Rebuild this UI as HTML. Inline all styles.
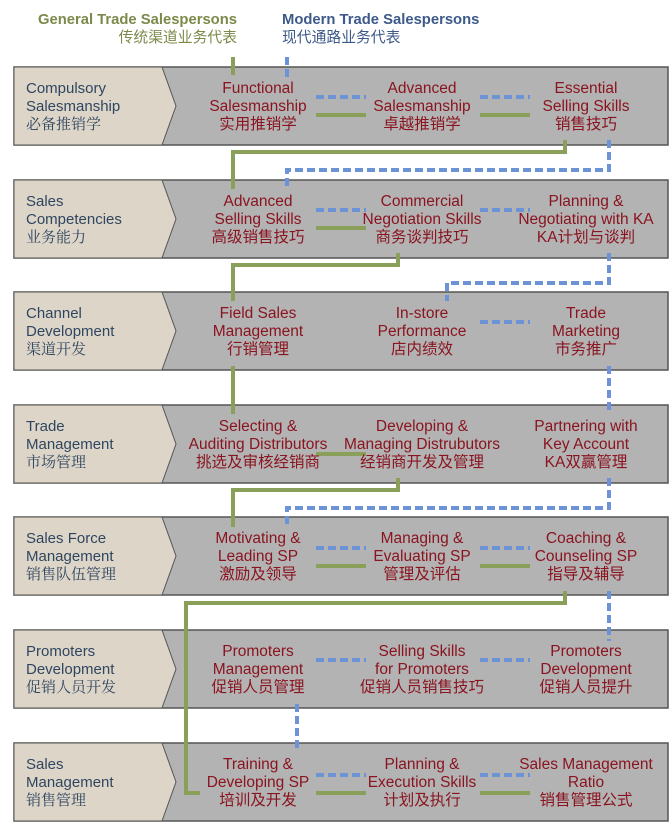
<!DOCTYPE html>
<html><head><meta charset="utf-8"><style>
html,body{margin:0;padding:0;background:#fff;}
svg{display:block;}
.h{font-family:"Liberation Sans","Noto Sans CJK SC",sans-serif;font-size:14.8px;font-weight:bold;}
.hc{font-family:"Liberation Sans","Noto Sans CJK SC",sans-serif;font-size:14.8px;}
.n{font-family:"Liberation Sans","Noto Sans CJK SC",sans-serif;font-size:15.5px;fill:#8a1420;text-anchor:middle;}
.l{font-family:"Liberation Sans","Noto Serif CJK SC",sans-serif;font-size:15px;fill:#2f4660;}
.g{stroke:#8aa05a;stroke-width:4;fill:none;}
.b{stroke:#6b93d6;stroke-width:4;fill:none;stroke-dasharray:8 4;}
</style></head><body>
<svg width="669" height="836" viewBox="0 0 669 836" xmlns="http://www.w3.org/2000/svg">
<text class="h" x="237" y="24" text-anchor="end" fill="#7b8a4a">General Trade Salespersons</text>
<text class="hc" x="237" y="42" text-anchor="end" fill="#7b8a4a">传统渠道业务代表</text>
<text class="h" x="282" y="24" fill="#3d5a8a">Modern Trade Salespersons</text>
<text class="hc" x="282" y="42" fill="#3d5a8a">现代通路业务代表</text>

<g id="bands">
<g transform="translate(0,67)"><rect x="14" y="0" width="654" height="78" fill="#b3b3b3" stroke="#555" stroke-width="1.5"/><polygon points="14,0 162,0 176,39 162,78 14,78" fill="#ddd5c8" stroke="#555" stroke-width="1"/></g>
<g transform="translate(0,180)"><rect x="14" y="0" width="654" height="78" fill="#b3b3b3" stroke="#555" stroke-width="1.5"/><polygon points="14,0 162,0 176,39 162,78 14,78" fill="#ddd5c8" stroke="#555" stroke-width="1"/></g>
<g transform="translate(0,292)"><rect x="14" y="0" width="654" height="78" fill="#b3b3b3" stroke="#555" stroke-width="1.5"/><polygon points="14,0 162,0 176,39 162,78 14,78" fill="#ddd5c8" stroke="#555" stroke-width="1"/></g>
<g transform="translate(0,405)"><rect x="14" y="0" width="654" height="78" fill="#b3b3b3" stroke="#555" stroke-width="1.5"/><polygon points="14,0 162,0 176,39 162,78 14,78" fill="#ddd5c8" stroke="#555" stroke-width="1"/></g>
<g transform="translate(0,517)"><rect x="14" y="0" width="654" height="78" fill="#b3b3b3" stroke="#555" stroke-width="1.5"/><polygon points="14,0 162,0 176,39 162,78 14,78" fill="#ddd5c8" stroke="#555" stroke-width="1"/></g>
<g transform="translate(0,630)"><rect x="14" y="0" width="654" height="78" fill="#b3b3b3" stroke="#555" stroke-width="1.5"/><polygon points="14,0 162,0 176,39 162,78 14,78" fill="#ddd5c8" stroke="#555" stroke-width="1"/></g>
<g transform="translate(0,743)"><rect x="14" y="0" width="654" height="78" fill="#b3b3b3" stroke="#555" stroke-width="1.5"/><polygon points="14,0 162,0 176,39 162,78 14,78" fill="#ddd5c8" stroke="#555" stroke-width="1"/></g>
</g>

<path class="g" d="M233,57 V75"/>
<path class="b" d="M287,57 V77"/>
<path class="g" d="M565,140 V152 H233 V189"/>
<path class="b" d="M609,140 V170 H287 V189"/>
<path class="g" d="M398,253 V265 H233 V301"/>
<path class="b" d="M609,253 V283 H447 V301"/>
<path class="g" d="M233,366 V414"/>
<path class="b" d="M609,366 V414"/>
<path class="g" d="M398,478 V490 H233 V527"/>
<path class="b" d="M609,478 V508 H287 V527"/>
<path class="g" d="M565,591 V603 H186 V793 H200"/>
<path class="b" d="M609,591 V641"/>
<path class="b" d="M297,704 V752"/>

<path class="b" d="M316,97 H366 M480,97 H530"/>
<path class="g" d="M316,115 H366 M480,115 H530"/>
<path class="b" d="M316,210 H366 M480,210 H530"/>
<path class="g" d="M316,228 H366"/>
<path class="b" d="M480,322 H530"/>
<path class="g" d="M316,454 H366"/>
<path class="b" d="M316,548 H366 M480,548 H530"/>
<path class="g" d="M316,566 H366 M480,566 H530"/>
<path class="b" d="M316,660 H366 M480,660 H530"/>
<path class="b" d="M316,775 H366 M480,775 H530"/>
<path class="g" d="M316,793 H366 M480,793 H530"/>

<g class="l">
<text x="26" y="93">Compulsory</text><text x="26" y="111">Salesmanship</text><text x="26" y="129">必备推销学</text>
<text x="26" y="206">Sales</text><text x="26" y="224">Competencies</text><text x="26" y="242">业务能力</text>
<text x="26" y="318">Channel</text><text x="26" y="336">Development</text><text x="26" y="354">渠道开发</text>
<text x="26" y="431">Trade</text><text x="26" y="449">Management</text><text x="26" y="467">市场管理</text>
<text x="26" y="543">Sales Force</text><text x="26" y="561">Management</text><text x="26" y="579">销售队伍管理</text>
<text x="26" y="656">Promoters</text><text x="26" y="674">Development</text><text x="26" y="692">促销人员开发</text>
<text x="26" y="769">Sales</text><text x="26" y="787">Management</text><text x="26" y="805">销售管理</text>
</g>

<g class="n">
<text x="258" y="93">Functional</text><text x="258" y="111">Salesmanship</text><text x="258" y="129">实用推销学</text>
<text x="422" y="93">Advanced</text><text x="422" y="111">Salesmanship</text><text x="422" y="129">卓越推销学</text>
<text x="586" y="93">Essential</text><text x="586" y="111">Selling Skills</text><text x="586" y="129">销售技巧</text>

<text x="258" y="206">Advanced</text><text x="258" y="224">Selling Skills</text><text x="258" y="242">高级销售技巧</text>
<text x="422" y="206">Commercial</text><text x="422" y="224">Negotiation Skills</text><text x="422" y="242">商务谈判技巧</text>
<text x="586" y="206">Planning &amp;</text><text x="586" y="224">Negotiating with KA</text><text x="586" y="242">KA计划与谈判</text>

<text x="258" y="318">Field Sales</text><text x="258" y="336">Management</text><text x="258" y="354">行销管理</text>
<text x="422" y="318">In-store</text><text x="422" y="336">Performance</text><text x="422" y="354">店内绩效</text>
<text x="586" y="318">Trade</text><text x="586" y="336">Marketing</text><text x="586" y="354">市务推广</text>

<text x="258" y="431">Selecting &amp;</text><text x="258" y="449">Auditing Distributors</text><text x="258" y="467">挑选及审核经销商</text>
<text x="422" y="431">Developing &amp;</text><text x="422" y="449">Managing Distrubutors</text><text x="422" y="467">经销商开发及管理</text>
<text x="586" y="431">Partnering with</text><text x="586" y="449">Key Account</text><text x="586" y="467">KA双赢管理</text>

<text x="258" y="543">Motivating &amp;</text><text x="258" y="561">Leading SP</text><text x="258" y="579">激励及领导</text>
<text x="422" y="543">Managing &amp;</text><text x="422" y="561">Evaluating SP</text><text x="422" y="579">管理及评估</text>
<text x="586" y="543">Coaching &amp;</text><text x="586" y="561">Counseling SP</text><text x="586" y="579">指导及辅导</text>

<text x="258" y="656">Promoters</text><text x="258" y="674">Management</text><text x="258" y="692">促销人员管理</text>
<text x="422" y="656">Selling Skills</text><text x="422" y="674">for Promoters</text><text x="422" y="692">促销人员销售技巧</text>
<text x="586" y="656">Promoters</text><text x="586" y="674">Development</text><text x="586" y="692">促销人员提升</text>

<text x="258" y="769">Training &amp;</text><text x="258" y="787">Developing SP</text><text x="258" y="805">培训及开发</text>
<text x="422" y="769">Planning &amp;</text><text x="422" y="787">Execution Skills</text><text x="422" y="805">计划及执行</text>
<text x="586" y="769">Sales Management</text><text x="586" y="787">Ratio</text><text x="586" y="805">销售管理公式</text>
</g>
</svg>
</body></html>
